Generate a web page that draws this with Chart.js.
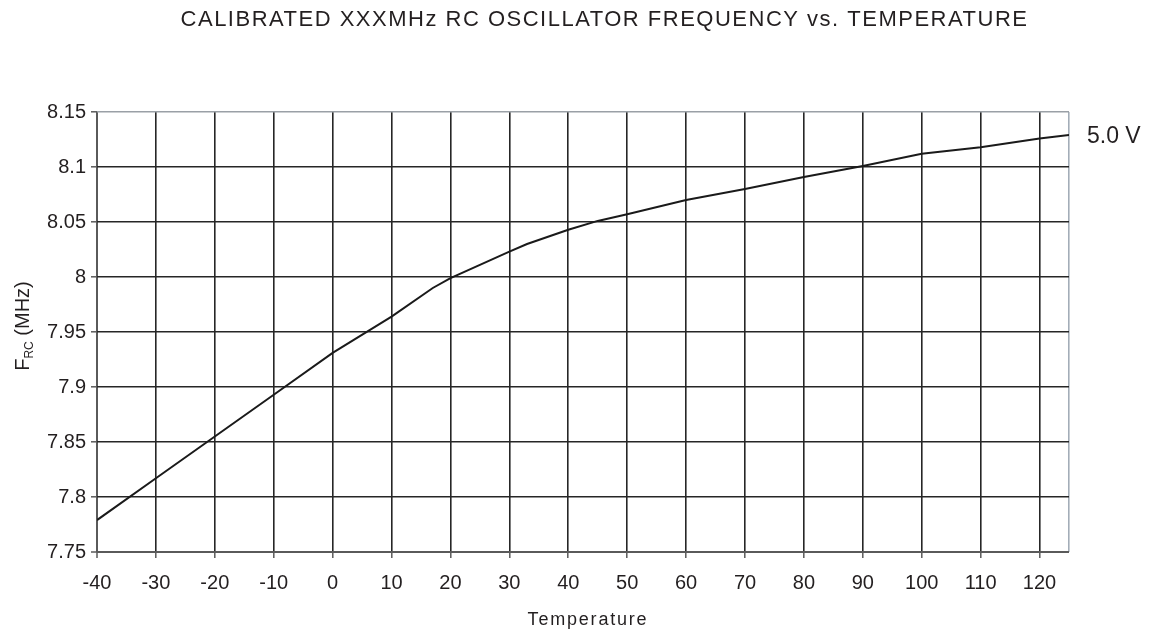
<!DOCTYPE html>
<html>
<head>
<meta charset="utf-8">
<title>Calibrated RC oscillator frequency vs temperature</title>
<script src="https://cdn.jsdelivr.net/npm/chart.js@4.4.0/dist/chart.umd.min.js"></script>
<style>
  html, body { margin: 0; padding: 0; background: #fff; }
  #wrap { width: 1169px; height: 632px; }
</style>
</head>
<body>
<div id="wrap"><canvas id="chart" width="1169" height="632"></canvas></div>
<script>
(function () {
  'use strict';

  // values (temperature in degC, frequency in MHz)
  const temps   = [-40, -30, -20, -10, 0, 10, 17, 20, 25, 30, 33, 40, 45, 50, 60, 70, 80, 90, 100, 110, 120, 125];
  const freqMHz = [7.779, 7.817, 7.855, 7.893, 7.931, 7.964, 7.990, 7.999, 8.011, 8.023, 8.030, 8.043, 8.051,
                   8.057, 8.070, 8.080, 8.091, 8.101, 8.112, 8.118, 8.126, 8.129];

  // axis stops
  const xTicks = [-40, -30, -20, -10, 0, 10, 20, 30, 40, 50, 60, 70, 80, 90, 100, 110, 120, 125];
  const yTicks = [7.75, 7.8, 7.85, 7.9, 7.95, 8, 8.05, 8.1, 8.15];

  const titleText  = 'CALIBRATED XXXMHz RC OSCILLATOR FREQUENCY vs. TEMPERATURE';
  const xTitle     = 'Temperature';
  const seriesName = '5.0 V';

  const FONT = '"Liberation Sans", Arial, Helvetica, sans-serif';
  const INK = '#231f20';
  const GRID = '#262626';
  const AXIS = '#5a5a5a';

  const xMin = xTicks[0], xMax = xTicks[xTicks.length - 1];
  const yMin = yTicks[0], yMax = yTicks[yTicks.length - 1];

  // texts the library can't lay out the way the reference does (subscript, offsets)
  const textPlugin = {
    id: 'refTexts',
    afterDraw(chart) {
      const ctx = chart.ctx;
      const a = chart.chartArea;
      const yScale = chart.scales.y;
      const spacing = v => { if ('letterSpacing' in ctx) ctx.letterSpacing = v; };
      ctx.save();
      ctx.fillStyle = INK;
      ctx.textBaseline = 'middle';

      // title
      ctx.font = '22px ' + FONT;
      spacing('1.5px');
      ctx.textAlign = 'center';
      ctx.fillText(titleText, chart.width / 2 + 20, 20);

      // x axis title (spaced out like the reference)
      ctx.font = '18px ' + FONT;
      spacing('1.8px');
      ctx.fillText(xTitle, (a.left + a.right) / 2 + 5, 620);
      spacing('0px');

      // series label at the end of the curve
      ctx.font = '23px ' + FONT;
      ctx.textAlign = 'left';
      ctx.fillText(seriesName, a.right + 18, yScale.getPixelForValue(freqMHz[freqMHz.length - 1]) + 2);

      // y axis title: F with subscript RC, then (MHz)
      ctx.translate(22, (a.top + a.bottom) / 2 - 6);
      ctx.rotate(-Math.PI / 2);
      const big = '20px ' + FONT, small = '12px ' + FONT;
      ctx.font = big;
      const wF = ctx.measureText('F').width;
      const wRest = ctx.measureText(' (MHz)').width;
      ctx.font = small;
      const wSub = ctx.measureText('RC').width;
      let x0 = -(wF + wSub + wRest) / 2;
      ctx.textAlign = 'left';
      ctx.textBaseline = 'alphabetic';
      ctx.font = big;
      ctx.fillText('F', x0, 7);
      ctx.font = small;
      ctx.fillText('RC', x0 + wF, 11);
      ctx.font = big;
      ctx.fillText(' (MHz)', x0 + wF + wSub, 7);
      ctx.restore();
    }
  };

  const ctx = document.getElementById('chart');
  new Chart(ctx, {
    type: 'line',
    data: {
      datasets: [{
        label: seriesName,
        data: temps.map((t, i) => ({ x: t, y: freqMHz[i] })),
        borderColor: '#1a1a1a',
        borderWidth: 2,
        pointRadius: 0,
        tension: 0,
        fill: false
      }]
    },
    options: {
      responsive: false,
      animation: false,
      events: [],
      layout: { padding: { left: 0, right: 100, top: 112, bottom: 0 } },
      plugins: {
        legend: { display: false },
        title: { display: false },
        tooltip: { enabled: false }
      },
      scales: {
        x: {
          type: 'linear',
          min: xMin,
          max: xMax,
          afterBuildTicks: s => { s.ticks = xTicks.map(v => ({ value: v })); },
          afterFit: s => { s.height = 80; },
          border: { display: false },
          grid: {
            color: c => c.tick && c.tick.value === xMin ? AXIS : (c.tick && c.tick.value === xMax ? '#a3adb8' : GRID),
            lineWidth: c => c.tick && c.tick.value === xMin ? 2 : 1.6,
            tickColor: c => c.tick && c.tick.value === xMax ? 'rgba(0,0,0,0)' : AXIS,
            tickLength: 6,
            tickWidth: 1.5
          },
          ticks: {
            autoSkip: false,
            maxRotation: 0,
            padding: 13,
            color: INK,
            font: { family: FONT, size: 20 },
            callback: v => (v === xMax ? '' : String(v))
          }
        },
        y: {
          type: 'linear',
          min: yMin,
          max: yMax,
          afterBuildTicks: s => { s.ticks = yTicks.map(v => ({ value: v })); },
          afterFit: s => { s.width = 97; },
          border: { display: false },
          grid: {
            color: c => c.tick && c.tick.value === yMin ? AXIS : (c.tick && c.tick.value === yMax ? '#9aa0a6' : GRID),
            lineWidth: c => c.tick && c.tick.value === yMin ? 2 : 1.6,
            tickColor: AXIS,
            tickLength: 6,
            tickWidth: 1.5
          },
          ticks: {
            autoSkip: false,
            padding: 5,
            color: INK,
            font: { family: FONT, size: 20 },
            callback: v => String(+Number(v).toFixed(2))
          }
        }
      }
    },
    plugins: [textPlugin]
  });
})();
</script>
</body>
</html>
